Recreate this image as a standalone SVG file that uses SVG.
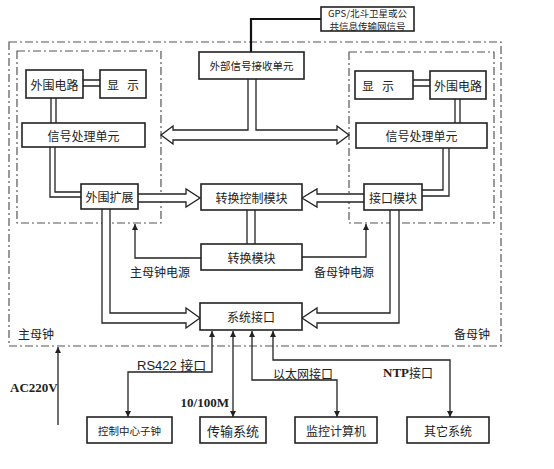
<svg xmlns="http://www.w3.org/2000/svg" width="554" height="469" viewBox="0 0 554 469">
<defs>
<style>
.bg{fill:#fff}
.box{fill:#fff;stroke:#222;stroke-width:1.6}
.dd{fill:none;stroke:#555;stroke-width:1.2;stroke-dasharray:8 3 2 3}
.ln{fill:none;stroke:#222;stroke-width:1.3}
.hol{fill:#fff;stroke:#222;stroke-width:1.3;stroke-linejoin:miter}
.t{font-family:"Noto Sans CJK SC","Noto Sans",sans-serif;font-size:12px;fill:#222;text-anchor:middle;dominant-baseline:central}
.s{font-size:10.5px}
.g{font-size:9.5px}
.lat{font-family:"Liberation Serif","Noto Sans CJK SC",serif;font-size:13px;font-weight:bold;fill:#222;dominant-baseline:central}
.sans{font-family:"Liberation Sans","Noto Sans CJK SC",sans-serif;font-size:13px;fill:#222;dominant-baseline:central}
</style>
<marker id="ah" viewBox="0 0 10 10" refX="10" refY="5" markerWidth="6" markerHeight="6" orient="auto-start-reverse" markerUnits="userSpaceOnUse">
<path d="M0,0 L10,5 L0,10 Z" fill="#222"/>
</marker>
</defs>
<rect class="bg" x="0" y="0" width="554" height="469"/>

<g id="frames">
<rect class="dd" x="9" y="42" width="492" height="304"/>
<rect class="dd" x="17" y="51" width="144" height="172"/>
<rect class="dd" x="349" y="52" width="145" height="171"/>
</g>

<g id="connectors">
<path d="M321,19 L251,19 L251,52" fill="none" stroke="#111" stroke-width="2.2"/>
<path class="hol" d="M248,79 L248,130 L173,130 L173,126 L161,135 L173,144 L173,140 L337,140 L337,144 L349,135 L337,126 L337,130 L256,130 L256,79"/>
<path class="ln" d="M83,80 L100,80 M83,86 L100,86"/>
<path class="ln" d="M51,98 L51,123 M56,98 L56,123"/>
<path class="ln" d="M50,147 L50,197 L81,197 M55,147 L55,192 L81,192"/>
<path class="ln" d="M413,80 L430,80 M413,86 L430,86"/>
<path class="ln" d="M455,99 L455,123 M460,99 L460,123"/>
<path class="ln" d="M443,148 L443,190 L422,190 M449,148 L449,196 L422,196"/>
<path class="hol" d="M138,194 L186,194 L186,189 L200,198 L186,207 L186,202 L138,202"/>
<path class="hol" d="M364,194 L317,194 L317,189 L302,198 L317,207 L317,202 L364,202"/>
<path class="ln" d="M247,210 L247,244 M255,210 L255,244"/>
<path class="ln" d="M201,258 L135,258 L135,224" marker-end="url(#ah)"/>
<path class="ln" d="M302,257 L366,257 L366,224" marker-end="url(#ah)"/>
<path class="hol" d="M102,209 L102,323 L186,323 L186,328 L200,318 L186,308 L186,313 L110,313 L110,209"/>
<path class="hol" d="M390,210 L390,313 L317,313 L317,308 L302,318 L317,328 L317,323 L399,323 L399,210"/>
<path class="ln" d="M212,331 L212,372 L128,372 L128,417" marker-start="url(#ah)" marker-end="url(#ah)"/>
<path class="ln" d="M233,331 L233,417" marker-start="url(#ah)" marker-end="url(#ah)"/>
<path class="ln" d="M252,331 L252,380 L337,380 L337,417" marker-start="url(#ah)" marker-end="url(#ah)"/>
<path class="ln" d="M273,331 L273,360 L450,360 L450,417" marker-start="url(#ah)" marker-end="url(#ah)"/>
<path class="ln" d="M58,425 L58,347" marker-end="url(#ah)"/>
</g>

<g id="gps">
<rect class="box" x="321" y="7" width="93" height="24" stroke-width="1.3"/>
<text class="t g" x="367.5" y="13">GPS/北斗卫星或公</text>
<text class="t g" x="367.5" y="25.5">共信息传输网信号</text>
</g>
<g id="recv"><rect class="box" x="199" y="52" width="105" height="27"/><text class="t s" x="251.5" y="65.5">外部信号接收单元</text></g>

<g id="l-periph"><rect class="box" x="26" y="70" width="57" height="28"/><text class="t" x="54.5" y="84">外围电路</text></g>
<g id="l-disp"><rect class="box" x="100" y="70" width="46" height="28"/><text class="t" x="123" y="84" xml:space="preserve">显   示</text></g>
<g id="l-sig"><rect class="box" x="22" y="123" width="123" height="24"/><text class="t" x="83.5" y="135">信号处理单元</text></g>
<g id="l-ext"><rect class="box" x="81" y="184" width="57" height="25"/><text class="t" x="109.5" y="196.5">外围扩展</text></g>

<g id="r-disp"><rect class="box" x="355" y="71" width="58" height="28"/><text class="t" x="378" y="85" xml:space="preserve">显   示</text></g>
<g id="r-periph"><rect class="box" x="430" y="71" width="56" height="28"/><text class="t" x="458" y="85">外围电路</text></g>
<g id="r-sig"><rect class="box" x="356" y="123" width="131" height="25"/><text class="t" x="421.5" y="135.5">信号处理单元</text></g>
<g id="r-if"><rect class="box" x="364" y="184" width="58" height="26"/><text class="t" x="393" y="197">接口模块</text></g>

<g id="ctrl"><rect class="box" x="201" y="184" width="101" height="26"/><text class="t" x="251.5" y="197">转换控制模块</text></g>
<g id="switch"><rect class="box" x="201" y="244" width="101" height="26"/><text class="t" x="251.5" y="257">转换模块</text></g>
<g id="sysif"><rect class="box" x="200" y="303" width="102" height="27"/><text class="t" x="251" y="316.5">系统接口</text></g>

<g id="b-ctrl"><rect class="box" x="87" y="417" width="85" height="26"/><text class="t s" x="129.5" y="430">控制中心子钟</text></g>
<g id="b-trans"><rect class="box" x="200" y="417" width="66" height="26"/><text class="t" x="233" y="430" style="font-size:13px">传输系统</text></g>
<g id="b-mon"><rect class="box" x="295" y="417" width="82" height="26"/><text class="t" x="336" y="430">监控计算机</text></g>
<g id="b-other"><rect class="box" x="407" y="417" width="82" height="26"/><text class="t" x="448" y="430">其它系统</text></g>

<g id="labels">
<text class="t" x="160" y="271">主母钟电源</text>
<text class="t" x="344" y="271">备母钟电源</text>
<text class="t" x="36" y="333">主母钟</text>
<text class="t" x="472" y="333">备母钟</text>
<text class="sans" x="137" y="365">RS422 接口</text>
<text class="lat" x="229" y="402" text-anchor="end">10/100M</text>
<text class="t" x="303" y="373">以太网接口</text>
<text class="lat" x="383" y="372">NTP<tspan style="font-family:'Noto Sans CJK SC',sans-serif;font-weight:normal;font-size:12px">接口</tspan></text>
<text class="lat" x="10" y="387">AC220V</text>
</g>
</svg>
